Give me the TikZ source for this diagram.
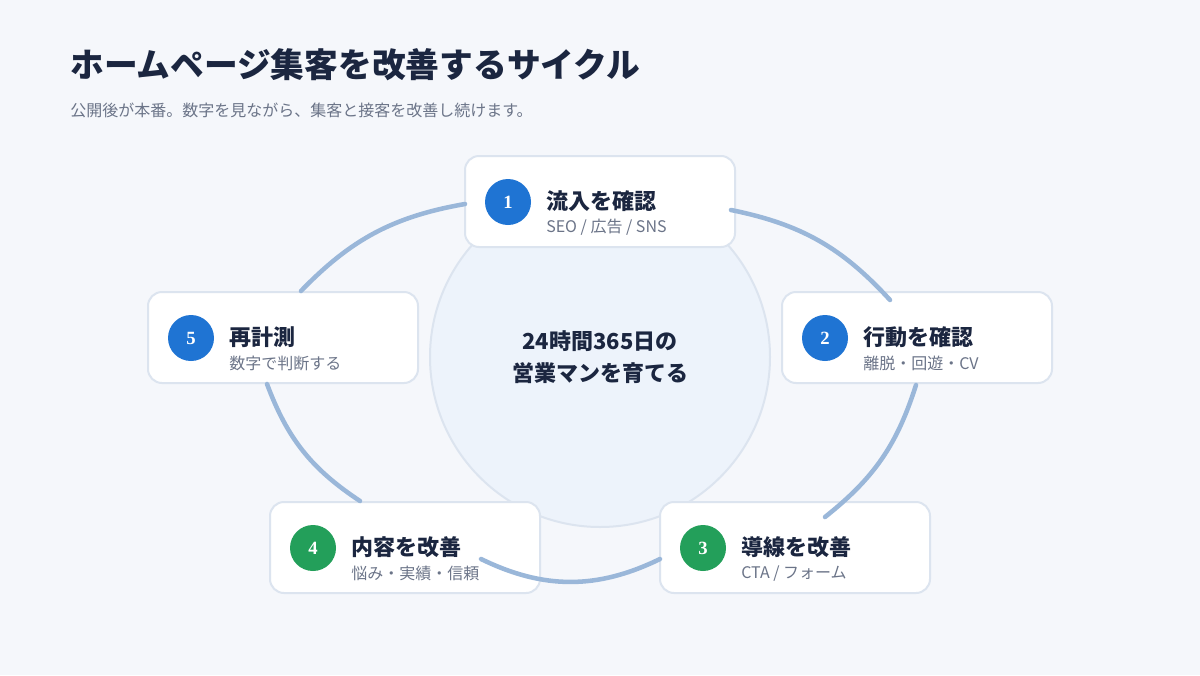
\documentclass[tikz,border=0pt]{standalone}
\usepackage{fontspec}
\setmainfont{Noto Sans CJK JP}
\newfontfamily\digitfont{Liberation Serif}
\usepackage{tikz}
\usetikzlibrary{positioning, calc}
\definecolor{bgpage}{HTML}{F5F7FB}
\definecolor{navy}{HTML}{1B2640}
\definecolor{greytext}{HTML}{6B7488}
\definecolor{cardline}{HTML}{DCE4EF}
\definecolor{hubfill}{HTML}{EDF3FB}
\definecolor{arcblue}{HTML}{9AB7D9}
\definecolor{stepblue}{HTML}{1F74D3}
\definecolor{stepgreen}{HTML}{239F5A}
\tikzset{
  card/.style={rectangle, draw=cardline, line width=1.5pt, fill=white, rounded corners=10.5pt, minimum width=202.5pt, minimum height=68.25pt},
  badge/.style={circle, inner sep=0pt, minimum size=34.5pt, text=white, font=\digitfont\bfseries\fontsize{14}{14}\selectfont},
  cardtitle/.style={anchor=west, inner sep=0pt, text=navy, font=\bfseries\fontsize{16.5}{18}\selectfont},
  cardsub/.style={anchor=west, inner sep=0pt, text=greytext, font=\fontsize{12}{14}\selectfont},
  looparc/.style={draw=arcblue, line width=3.4pt, line cap=round}
}
\begin{document}
\begin{tikzpicture}[x=0.75pt, y=-0.75pt]
  \fill[bgpage] (0,0) rectangle (1200,675);
  \useasboundingbox (0,0) rectangle (1200,675);

  % Heading
  \node[anchor=west, inner sep=0pt, text=navy, font=\bfseries\fontsize{25.3}{28}\selectfont] (title) at (70,65) {ホームページ集客を改善するサイクル};
  \node[anchor=west, inner sep=0pt, text=greytext, font=\fontsize{12}{14}\selectfont] (subtitle) at (70,110) {公開後が本番。数字を見ながら、集客と接客を改善し続けます。};

  % Hub
  \node[circle, draw=cardline, line width=1.5pt, fill=hubfill, minimum size=255pt] (hub) at (600,357) {};
  \node[align=center, text=navy, font=\bfseries\fontsize{16.5}{24}\selectfont] (hubtext) at (600,357) {24時間365日の\\営業マンを育てる};

  % Cards
  \node[card] (c1) at (600,201.5) {};
  \node[card] (c2) at (917,337.5) {};
  \node[card] (c3) at (795,547.5) {};
  \node[card] (c4) at (405,547.5) {};
  \node[card] (c5) at (283,337.5) {};

  % Loop arcs (clockwise)
  \draw[looparc] ($(c5.north)+(18,0)$) to[bend left=18] ($(c1.west)+(1,2.5)$);
  \draw[looparc] ($(c1.east)+(-5,8.5)$) to[bend left=18] ($(c2.north)+(-27,9)$);
  \draw[looparc] ($(c2.south)+(-1,1)$) to[bend left=17] ($(c3.north)+(30,16)$);
  \draw[looparc] ($(c3.west)+(1,11.5)$) to[bend left=26] ($(c4.east)+(-60,11.5)$);
  \draw[looparc] ($(c4.north)+(-45,0)$) to[bend left=18] ($(c5.south)+(-16,0)$);

  % Step 1
  \node[badge, fill=stepblue] (b1) at ($(c1.west)+(44,0.5)$) {1};
  \node[cardtitle] (t1) at ($(c1.west)+(82,0)$) {流入を確認};
  \node[cardsub] (s1) at ($(c1.west)+(82,26)$) {SEO / 広告 / SNS};

  % Step 2
  \node[badge, fill=stepblue] (b2) at ($(c2.west)+(44,0.5)$) {2};
  \node[cardtitle] (t2) at ($(c2.west)+(82,0)$) {行動を確認};
  \node[cardsub] (s2) at ($(c2.west)+(82,26)$) {離脱・回遊・CV};

  % Step 3
  \node[badge, fill=stepgreen] (b3) at ($(c3.west)+(44,0.5)$) {3};
  \node[cardtitle] (t3) at ($(c3.west)+(82,0)$) {導線を改善};
  \node[cardsub] (s3) at ($(c3.west)+(82,26)$) {CTA / フォーム};

  % Step 4
  \node[badge, fill=stepgreen] (b4) at ($(c4.west)+(44,0.5)$) {4};
  \node[cardtitle] (t4) at ($(c4.west)+(82,0)$) {内容を改善};
  \node[cardsub] (s4) at ($(c4.west)+(82,26)$) {悩み・実績・信頼};

  % Step 5
  \node[badge, fill=stepblue] (b5) at ($(c5.west)+(44,0.5)$) {5};
  \node[cardtitle] (t5) at ($(c5.west)+(82,0)$) {再計測};
  \node[cardsub] (s5) at ($(c5.west)+(82,26)$) {数字で判断する};
\end{tikzpicture}
\end{document}
